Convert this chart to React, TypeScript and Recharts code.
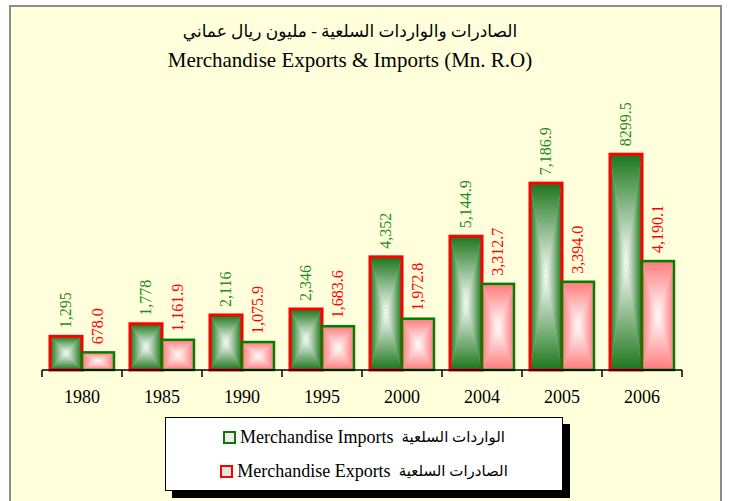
import { Bar, BarChart, LabelList, XAxis, YAxis } from 'recharts';

const years = ['1980', '1985', '1990', '1995', '2000', '2004', '2005', '2006'];
const exportsValues = [1295, 1778, 2116, 2346, 4352, 5144.9, 7186.9, 8299.5];
const exportsLabels = ['1,295', '1,778', '2,116', '2,346', '4,352', '5,144.9', '7,186.9', '8299.5'];
const importsValues = [678.0, 1161.9, 1075.9, 1683.6, 1972.8, 3312.7, 3394.0, 4190.1];
const importsLabels = ['678.0', '1,161.9', '1,075.9', '1,683.6', '1,972.8', '3,312.7', '3,394.0', '4,190.1'];

const titleAr = 'الصادرات والواردات السلعية - مليون ريال عماني';
const titleEn = 'Merchandise Exports & Imports (Mn. R.O)';
const legendRows = [
  { en: 'Merchandise Imports', ar: 'الواردات السلعية', border: '#008000', fill: '#FBE8E8' },
  { en: 'Merchandise Exports', ar: 'الصادرات السلعية', border: '#FF0000', fill: '#DDE6DD' },
];

const data = years.map((year, i) => ({
  year,
  exports: exportsValues[i],
  exportsLabel: exportsLabels[i],
  imports: importsValues[i],
  importsLabel: importsLabels[i],
}));

const W = 732;
const H = 501;
const M = { top: 136, right: 50, bottom: 101, left: 42 };
const AXIS_H = 30;
const AXIS_Y = H - M.bottom - AXIS_H;
const HALF_CAT = (W - M.left - M.right) / years.length / 2;
const FONT = '"Liberation Serif", "Times New Roman", "DejaVu Sans", serif';

const GREEN_EDGE = '#1C761C';
const PINK_EDGE = '#FF7A7A';

function Grads({ id, color }: { id: string; color: string }) {
  const dirs: [string, number, number, number, number][] = [
    ['t', 0, 0, 0, 1],
    ['b', 0, 1, 0, 0],
    ['l', 0, 0, 1, 0],
    ['r', 1, 0, 0, 0],
  ];
  return (
    <>
      {dirs.map(([k, x1, y1, x2, y2]) => (
        <linearGradient key={k} id={`${id}-${k}`} x1={x1} y1={y1} x2={x2} y2={y2}>
          <stop offset="0%" stopColor={color} />
          <stop offset="100%" stopColor="#FFFFFF" />
        </linearGradient>
      ))}
    </>
  );
}

const makeShape = (id: string, mid: string, stroke: string, sw: number) => (props: any) => {
  const { x, y, width, height } = props;
  if (!height || height <= 0) return <g />;
  const cx = x + width / 2;
  const cy = y + height / 2;
  const r = x + width;
  const b = y + height;
  return (
    <g>
      <rect x={x} y={y} width={width} height={height} fill={mid} />
      <polygon points={`${x},${y} ${r},${y} ${cx},${cy}`} fill={`url(#${id}-t)`} />
      <polygon points={`${x},${b} ${r},${b} ${cx},${cy}`} fill={`url(#${id}-b)`} />
      <polygon points={`${x},${y} ${x},${b} ${cx},${cy}`} fill={`url(#${id}-l)`} />
      <polygon points={`${r},${y} ${r},${b} ${cx},${cy}`} fill={`url(#${id}-r)`} />
      <rect x={x} y={y} width={width} height={height} fill="none" stroke={stroke} strokeWidth={sw} />
    </g>
  );
};

const greenShape = makeShape('gr', '#9CC09C', '#FF0000', 3);
const pinkShape = makeShape('pk', '#FFC0C0', '#008000', 2.5);

const makeLabel = (color: string) => (props: any) => {
  const { x, y, width, value } = props;
  const cx = x + width / 2;
  const ly = y - 8;
  return (
    <text
      x={cx}
      y={ly}
      transform={`rotate(-90 ${cx} ${ly})`}
      textAnchor="start"
      dominantBaseline="central"
      fill={color}
      fontSize={16}
      fontFamily={FONT}
    >
      {value}
    </text>
  );
};

function YearTick(props: any) {
  const { x, payload, index } = props;
  return (
    <g>
      <line x1={x - HALF_CAT} y1={AXIS_Y} x2={x - HALF_CAT} y2={AXIS_Y + 7} stroke="#000" strokeWidth={1.5} />
      {index === years.length - 1 && (
        <line x1={x + HALF_CAT} y1={AXIS_Y} x2={x + HALF_CAT} y2={AXIS_Y + 7} stroke="#000" strokeWidth={1.5} />
      )}
      <text x={x} y={AXIS_Y + 33} textAnchor="middle" fontSize={18} fontFamily={FONT} fill="#000">
        {payload.value}
      </text>
    </g>
  );
}

export default function App() {
  return (
    <div style={{ position: 'absolute', left: 0, top: 0, width: W, height: H, background: '#fff', overflow: 'hidden' }}>
      <div
        style={{
          position: 'absolute',
          left: 9,
          top: 5,
          width: 709,
          height: 520,
          background: '#FFFFDC',
          borderLeft: '2px solid #8C8C8C',
          borderTop: '2px solid #8C8C8C',
          borderRight: '2px solid #8C8C8C',
        }}
      />
      <div style={{ position: 'absolute', left: 0, top: 21, width: 700, textAlign: 'center', fontFamily: FONT, fontSize: 17, color: '#000' }}>
        {titleAr}
      </div>
      <div style={{ position: 'absolute', left: 0, top: 48, width: 700, textAlign: 'center', fontFamily: FONT, fontSize: 21, color: '#000' }}>
        {titleEn}
      </div>
      <div style={{ position: 'absolute', left: 0, top: 0 }}>
        <BarChart width={W} height={H} data={data} margin={M} barCategoryGap="10%" barGap={0}>
          <defs>
            <Grads id="gr" color={GREEN_EDGE} />
            <Grads id="pk" color={PINK_EDGE} />
          </defs>
          <XAxis
            dataKey="year"
            height={AXIS_H}
            axisLine={{ stroke: '#000', strokeWidth: 1.5 }}
            tickLine={false}
            tick={<YearTick />}
            interval={0}
          />
          <YAxis hide domain={[0, 9000]} />
          <Bar dataKey="exports" shape={greenShape} isAnimationActive={false}>
            <LabelList dataKey="exportsLabel" content={makeLabel('#1E8C1E')} />
          </Bar>
          <Bar dataKey="imports" shape={pinkShape} isAnimationActive={false}>
            <LabelList dataKey="importsLabel" content={makeLabel('#FF0000')} />
          </Bar>
        </BarChart>
      </div>
      <div
        style={{
          position: 'absolute',
          left: 165,
          top: 417,
          width: 398,
          height: 74,
          background: '#fff',
          border: '1px solid #000',
          boxShadow: '7px 7px 0 #000',
          fontFamily: FONT,
          fontSize: 18,
          color: '#000',
          display: 'flex',
          flexDirection: 'column',
          justifyContent: 'space-around',
          alignItems: 'center',
          padding: '2px 0',
          boxSizing: 'border-box',
        }}
      >
        {legendRows.map((row) => (
          <div key={row.en} style={{ display: 'flex', alignItems: 'center', whiteSpace: 'nowrap' }}>
            <span
              style={{
                display: 'inline-block',
                width: 9,
                height: 9,
                background: row.fill,
                border: `2.5px solid ${row.border}`,
                marginRight: 4,
              }}
            />
            <span>{row.en}</span>
            <span dir="rtl" style={{ marginLeft: 8, fontSize: 15 }}>{row.ar}</span>
          </div>
        ))}
      </div>
    </div>
  );
}
